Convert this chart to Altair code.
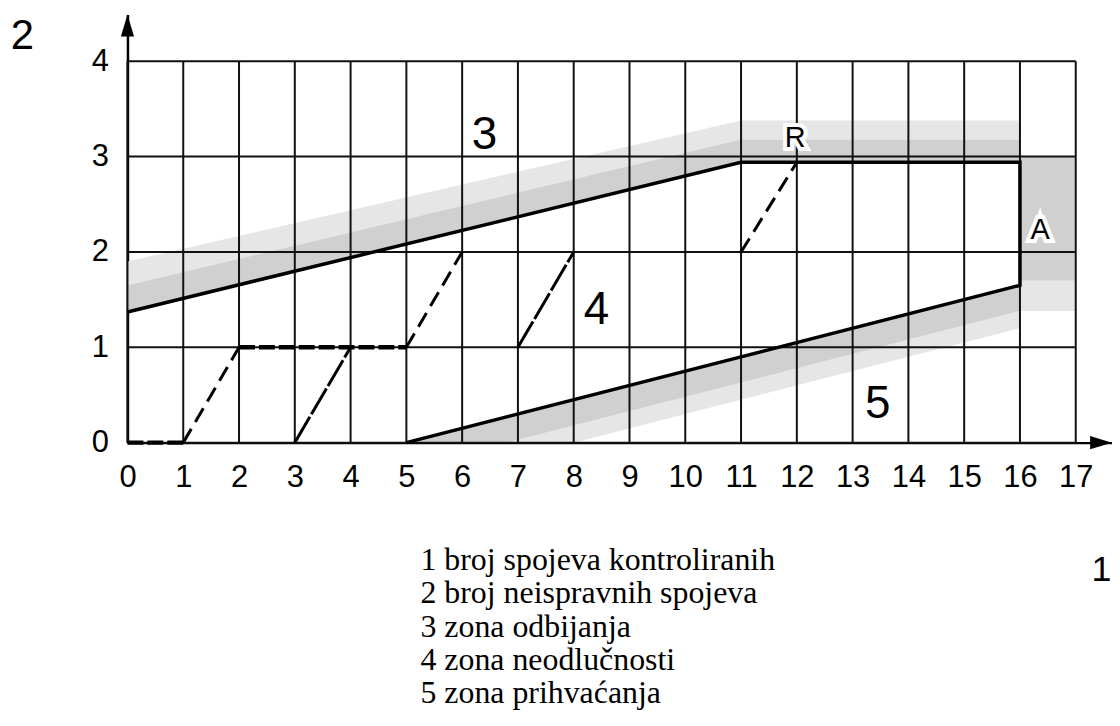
import altair as alt
import pandas as pd

# ---------------- data ----------------
x_ticks = list(range(0, 18))
y_ticks = [0, 1, 2, 3, 4]
x_max = 17.65
y_max = 4.49

# boundary (rejection line -> plateau -> A edge -> acceptance line)
bound_x = [0, 11, 16, 16, 5]
bound_y = [1.37, 2.94, 2.94, 1.65, 0]

# shaded bands: inner (darker) and outer (lighter) parts
upper_band_x = [0, 11, 16]
upper_band_lo = [1.37, 2.94, 2.94]
upper_band_mid = [1.65, 3.18, 3.18]
upper_band_hi = [1.9, 3.38, 3.38]
lower_band_x = [5, 6.8, 8, 16]
lower_band_hi = [0, 0.27, 0.45, 1.65]
lower_band_mid = [0, 0, 0.18, 1.38]
lower_band_lo = [0, 0, 0, 1.2]
side_band_x = [16]
side_band_x2 = [17]
side_band_y = [1.38, 1.7]
side_band_y2 = [3.0, 3.0]

# step-path segments (x1, y1, x2, y2)
bold_segs = [(0, 0, 1, 0), (2, 1, 5, 1)]
dash_segs = [(1, 0, 2, 1), (5, 1, 6, 2), (11, 2, 12, 2.94)]
long_segs = [(3, 0, 4, 1), (7, 1, 8, 2)]

# annotations
zone_text = ["3", "4", "5"]
zone_x = [6.4, 8.41, 13.45]
zone_y = [3.23, 1.39, 0.40]
pt_text = ["R", "A"]
pt_x = [11.97, 16.36]
pt_y = [3.19, 2.23]

legend_lines = [
    "1 broj spojeva kontroliranih",
    "2 broj neispravnih spojeva",
    "3 zona odbijanja",
    "4 zona neodlučnosti",
    "5 zona prihvaćanja",
]

# ---------------- encodings ----------------
SANS = "Liberation Sans"
xs = alt.Scale(domain=[0, x_max], nice=False, zero=False)
ys = alt.Scale(domain=[0, y_max], nice=False, zero=False)

x_axis = alt.Axis(values=x_ticks, title="1", titleX=978, titleY=127, titleAngle=0,
                  titleFont=SANS, titleFontSize=36, titleFontWeight="normal",
                  titleColor="black", titleAlign="center", titleBaseline="middle",
                  labelFont=SANS, labelFontSize=31, labelColor="black",
                  labelBaseline="alphabetic", labelPadding=44, labelOverlap=False,
                  labelFlush=False, ticks=False, grid=False,
                  domainColor="black", domainWidth=2.5, format="d")
y_axis = alt.Axis(values=y_ticks, title="2", titleX=-106, titleY=34, titleAngle=0,
                  titleFont=SANS, titleFontSize=42, titleFontWeight="normal",
                  titleColor="black", titleAlign="center", titleBaseline="alphabetic",
                  labelFont=SANS, labelFontSize=31, labelColor="black",
                  labelPadding=19, labelOverlap=False, labelFlush=False,
                  ticks=False, grid=False, domainColor="black", domainWidth=2.5,
                  format="d")


def X(f):
    return alt.X(f, type="quantitative", scale=xs, axis=x_axis)


def Y(f):
    return alt.Y(f, type="quantitative", scale=ys, axis=y_axis)


# ---------------- layers ----------------
inner_fill = "#d0d0d0"
outer_fill = "#e6e6e6"
up_df = pd.DataFrame({"x": upper_band_x, "lo": upper_band_lo, "mid": upper_band_mid, "hi": upper_band_hi})
lo_df = pd.DataFrame({"x": lower_band_x, "lo": lower_band_lo, "mid": lower_band_mid, "hi": lower_band_hi})
side_df = pd.DataFrame({"x": side_band_x * 2, "x2": side_band_x2 * 2, "y": side_band_y,
                        "y2": side_band_y2, "k": ["outer", "inner"]})

upper_outer = alt.Chart(up_df).mark_area(color=outer_fill).encode(x=X("x"), y=Y("mid"), y2="hi")
upper_inner = alt.Chart(up_df).mark_area(color=inner_fill).encode(x=X("x"), y=Y("lo"), y2="mid")
lower_outer = alt.Chart(lo_df).mark_area(color=outer_fill).encode(x=X("x"), y=Y("lo"), y2="mid")
lower_inner = alt.Chart(lo_df).mark_area(color=inner_fill).encode(x=X("x"), y=Y("mid"), y2="hi")
side_band = alt.Chart(side_df).mark_rect().encode(
    x=X("x"), x2="x2", y=Y("y"), y2="y2",
    color=alt.Color("k:N", scale=alt.Scale(domain=["outer", "inner"], range=[outer_fill, inner_fill]),
                    legend=None))

vgrid_df = pd.DataFrame({"x": x_ticks, "y": [0] * len(x_ticks), "y2": [4] * len(x_ticks)})
hgrid_df = pd.DataFrame({"y": y_ticks, "x": [0] * len(y_ticks), "x2": [17] * len(y_ticks)})
vgrid = alt.Chart(vgrid_df).mark_rule(color="#111", strokeWidth=2).encode(x=X("x"), y=Y("y"), y2="y2")
hgrid = alt.Chart(hgrid_df).mark_rule(color="#111", strokeWidth=2).encode(y=Y("y"), x=X("x"), x2="x2")


def seg_layer(segs, **mk):
    df = pd.DataFrame(segs, columns=["x1", "y1", "x2", "y2"])
    return alt.Chart(df).mark_rule(color="black", **mk).encode(
        x=X("x1"), y=Y("y1"), x2="x2", y2="y2")


bold = seg_layer(bold_segs, strokeWidth=4.5, strokeDash=[16, 4])
dash = seg_layer(dash_segs, strokeWidth=3, strokeDash=[16, 8])
longd = seg_layer(long_segs, strokeWidth=3, strokeDash=[30, 3])

bound_df = pd.DataFrame({"x": bound_x, "y": bound_y, "o": list(range(len(bound_x)))})
boundary = alt.Chart(bound_df).mark_line(color="black", strokeWidth=3.5, strokeJoin="miter").encode(
    x=X("x"), y=Y("y"), order="o:Q")

arrow_df = pd.DataFrame({"x": [x_max], "y": [0]})
arrow_df2 = pd.DataFrame({"x": [0], "y": [y_max]})
arrow_r = alt.Chart(arrow_df).mark_point(shape="M0,0 L-1,-0.3 L-1,0.3 Z", filled=True, size=1936,
                                         color="black", opacity=1).encode(x=X("x"), y=Y("y"))
arrow_u = alt.Chart(arrow_df2).mark_point(shape="M0,0 L-0.3,1 L0.3,1 Z", filled=True, size=1936,
                                          color="black", opacity=1).encode(x=X("x"), y=Y("y"))

zone_df = pd.DataFrame({"t": zone_text, "x": zone_x, "y": zone_y})
zones = alt.Chart(zone_df).mark_text(font=SANS, fontSize=46, color="black").encode(
    x=X("x"), y=Y("y"), text="t:N")

pt_df = pd.DataFrame({"t": pt_text, "x": pt_x, "y": pt_y})
pt_halo = alt.Chart(pt_df).mark_text(font=SANS, fontSize=29, color="white", stroke="white",
                                     strokeWidth=8).encode(x=X("x"), y=Y("y"), text="t:N")
pts = alt.Chart(pt_df).mark_text(font=SANS, fontSize=29, color="black").encode(
    x=X("x"), y=Y("y"), text="t:N")

chart = alt.layer(
    upper_outer, upper_inner, lower_outer, lower_inner, side_band, vgrid, hgrid,
    bold, dash, longd, boundary, arrow_r, arrow_u, pt_halo, pts, zones
).properties(
    width=989, height=430,
    background="white",
    autosize=alt.AutoSizeParams(type="none"),
    padding={"left": 120, "top": 5, "right": 0, "bottom": 269},
    title=alt.TitleParams(text=legend_lines, orient="bottom", anchor="start", dx=412,
                          offset=-42, font="Liberation Serif", fontSize=32,
                          fontWeight="normal", lineHeight=33.5, color="black",
                          baseline="top"),
).configure_view(stroke="transparent", strokeWidth=0)

chart.save("out.html", embed_options={"renderer": "svg", "actions": False})
